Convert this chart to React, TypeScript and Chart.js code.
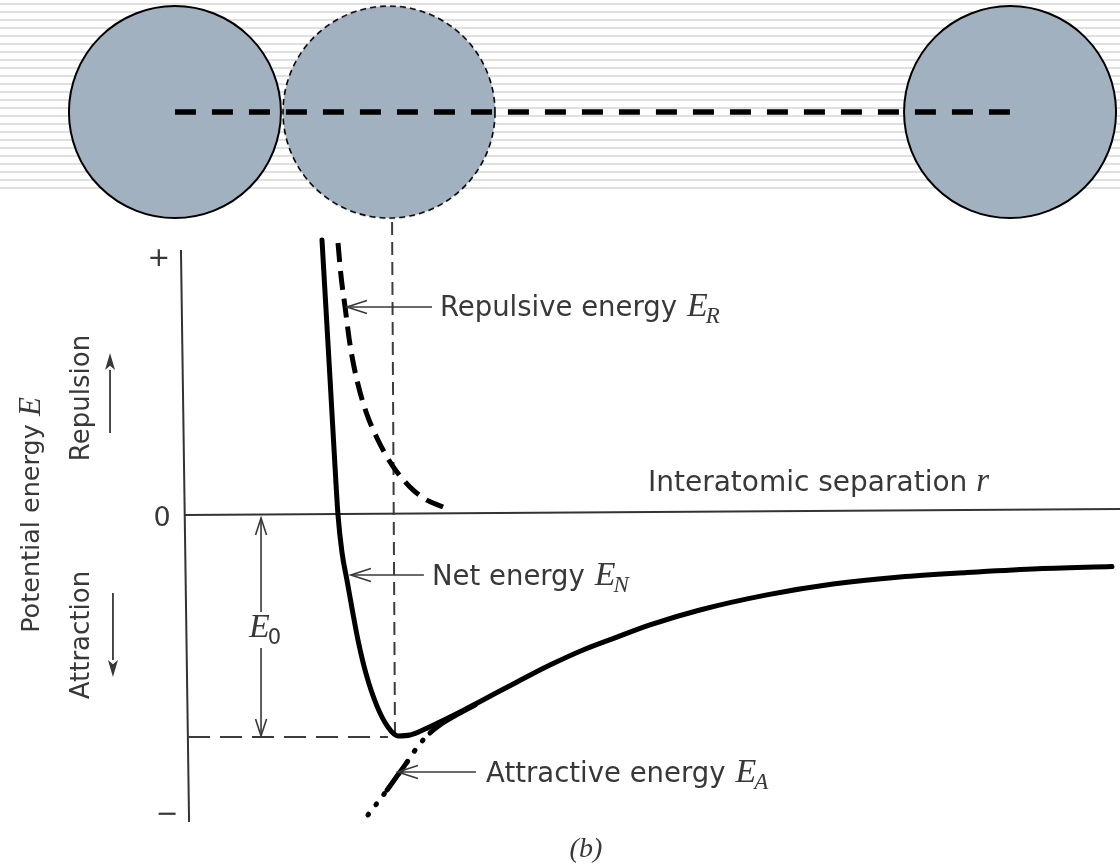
import React, { useEffect, useRef } from "react";
import { Chart, registerables } from "chart.js";

Chart.register(...registerables);

// Interatomic separation r (equilibrium r0 = 1) and potential energy E (bond energy E0 = -1)
const netSeparation = [0.649, 0.688, 0.712, 0.726, 0.745, 0.769, 0.793, 0.822, 0.861, 0.913, 0.966, 1.014, 1.072, 1.144, 1.216, 1.313, 1.423, 1.587, 1.745, 1.904, 2.067, 2.226, 2.466, 2.788, 3.106, 3.428, 3.75, 4.067, 4.447];
const netEnergy = [1.239, 0.608, 0.212, 0.0, -0.167, -0.293, -0.419, -0.563, -0.716, -0.86, -0.955, -0.995, -0.991, -0.964, -0.932, -0.887, -0.833, -0.752, -0.676, -0.608, -0.55, -0.495, -0.428, -0.36, -0.311, -0.279, -0.259, -0.243, -0.232];

const repulsiveSeparation = [0.726, 0.74, 0.76, 0.784, 0.817, 0.861, 0.918, 0.986, 1.072, 1.144, 1.231];
const repulsiveEnergy = [1.225, 1.081, 0.937, 0.766, 0.608, 0.464, 0.338, 0.225, 0.126, 0.072, 0.036];

const attractiveSeparation = [0.87, 0.918, 0.962, 1.01, 1.058, 1.111, 1.168, 1.216, 1.288, 1.385];
const attractiveEnergy = [-1.351, -1.293, -1.239, -1.176, -1.113, -1.041, -0.982, -0.946, -0.905, -0.856];

const atomSeparation = [-0.058, 0.971, 3.957];
const atomLevel = [1.815, 1.815, 1.815];

const energyTickLabels = ["+", "0", "\u2212"];
const energyTickValues = [1.158, -0.014, -1.347];

const equilibriumSeparation = [0.986, 1.0];
const equilibriumEnergy = [1.32, -1.0];
const bondLineSeparation = [0.005, 0.966];
const bondLineEnergy = [-1.0, -1.0];

const energyAxisSeparation = [-0.029, 0.01];
const energyAxisEnergy = [1.194, -1.383];
const separationAxisSeparation = [-0.01, 4.486];
const separationAxisEnergy = [0.0, 0.027];

const X_MIN = -0.899;
const X_MAX = 4.4856;
const Y_MIN = -1.5721;
const Y_MAX = 2.3198;

const pts = (xs: number[], ys: number[]) => xs.map((x, i) => ({ x, y: ys[i] }));

const INK = "#383838";
const SANS = '"DejaVu Sans", sans-serif';
const SERIF = '"Liberation Serif", serif';

function arrowOpen(ctx: CanvasRenderingContext2D, x1: number, y1: number, x2: number, y2: number, len = 20, half = 6.5) {
  const a = Math.atan2(y2 - y1, x2 - x1);
  ctx.beginPath();
  ctx.moveTo(x1, y1);
  ctx.lineTo(x2, y2);
  ctx.stroke();
  const bx = x2 - len * Math.cos(a);
  const by = y2 - len * Math.sin(a);
  const nx = -Math.sin(a) * half;
  const ny = Math.cos(a) * half;
  ctx.beginPath();
  ctx.moveTo(bx + nx, by + ny);
  ctx.lineTo(x2, y2);
  ctx.lineTo(bx - nx, by - ny);
  ctx.stroke();
}

function arrowFilled(ctx: CanvasRenderingContext2D, x1: number, y1: number, x2: number, y2: number, len = 17, half = 5) {
  const a = Math.atan2(y2 - y1, x2 - x1);
  const bx = x2 - len * Math.cos(a);
  const by = y2 - len * Math.sin(a);
  ctx.beginPath();
  ctx.moveTo(x1, y1);
  ctx.lineTo(bx, by);
  ctx.stroke();
  const nx = -Math.sin(a) * half;
  const ny = Math.cos(a) * half;
  ctx.beginPath();
  ctx.moveTo(x2, y2);
  ctx.lineTo(bx + nx, by + ny);
  ctx.lineTo(bx + (x2 - bx) * 0.25, by + (y2 - by) * 0.25);
  ctx.lineTo(bx - nx, by - ny);
  ctx.closePath();
  ctx.fill();
}

function mathSymbol(ctx: CanvasRenderingContext2D, x: number, base: number, sub: string, subItalic = true) {
  ctx.font = `italic 34px ${SERIF}`;
  ctx.fillText("E", x, base);
  const w = ctx.measureText("E").width;
  ctx.font = subItalic ? `italic 23px ${SERIF}` : `21px ${SANS}`;
  ctx.fillText(sub, x + w - 2, base + 7);
}

function labelWithSymbol(ctx: CanvasRenderingContext2D, x: number, base: number, text: string, sub: string) {
  ctx.font = `27.5px ${SANS}`;
  ctx.fillText(text, x, base);
  const w = ctx.measureText(text).width;
  mathSymbol(ctx, x + w + 10, base, sub);
}

const decorPlugin = {
  id: "decor",
  beforeDraw(chart: any) {
    const { ctx, width, height } = chart;
    ctx.save();
    ctx.fillStyle = "#ffffff";
    ctx.fillRect(0, 0, width, height);
    ctx.fillStyle = "#e0e0e0";
    for (let y = 3; y <= 188; y += 8) ctx.fillRect(0, y, width, 2);
    ctx.restore();
  },
  afterDatasetsDraw(chart: any) {
    const { ctx } = chart;
    const sx = chart.scales.x;
    const sy = chart.scales.y;
    const X = (v: number) => sx.getPixelForValue(v);
    const Y = (v: number) => sy.getPixelForValue(v);
    ctx.save();
    ctx.fillStyle = INK;
    ctx.strokeStyle = INK;
    ctx.lineWidth = 1.6;
    ctx.textBaseline = "alphabetic";
    ctx.textAlign = "left";

    // pointer labels
    const pointers = [
      { e: 0.937, tip: 0.769, tail: 1.178, at: 1.216, base: 0.896, text: "Repulsive energy", sub: "R" },
      { e: -0.27, tip: 0.788, tail: 1.139, at: 1.178, base: -0.315, text: "Net energy", sub: "N" },
      { e: -1.158, tip: 1.014, tail: 1.389, at: 1.438, base: -1.203, text: "Attractive energy", sub: "A" },
    ];
    for (const p of pointers) {
      arrowOpen(ctx, X(p.tail), Y(p.e), X(p.tip), Y(p.e));
      labelWithSymbol(ctx, X(p.at), Y(p.base), p.text, p.sub);
    }

    // axis title along r
    ctx.font = `28px ${SANS}`;
    const t = "Interatomic separation ";
    ctx.fillText(t, X(2.216), Y(0.108));
    const tw = ctx.measureText(t).width;
    ctx.font = `italic 33px ${SERIF}`;
    ctx.fillText("r", X(2.216) + tw, Y(0.108));

    // E0 marker
    const rx = X(0.356);
    arrowOpen(ctx, rx, Y(-0.437), rx, Y(-0.0135), 17, 5.5);
    arrowOpen(ctx, rx, Y(-0.599), rx, Y(-0.995), 17, 5.5);
    ctx.beginPath();
    ctx.moveTo(X(0.317), Y(-1.0));
    ctx.lineTo(X(0.399), Y(-1.0));
    ctx.stroke();
    mathSymbol(ctx, X(0.298), Y(-0.55), "0", false);

    // energy ticks
    ctx.font = `27px ${SANS}`;
    ctx.textAlign = "center";
    ctx.textBaseline = "middle";
    const tickR = [-0.135, -0.12, -0.096];
    energyTickLabels.forEach((lab, i) => ctx.fillText(lab, X(tickR[i]), Y(energyTickValues[i]) + 1));

    // rotated left labels
    const rotated = (cx: number, cy: number, parts: { t: string; f: string }[]) => {
      ctx.save();
      ctx.translate(cx, cy);
      ctx.rotate(-Math.PI / 2);
      ctx.textAlign = "left";
      ctx.textBaseline = "middle";
      let total = 0;
      const ws = parts.map((p) => {
        ctx.font = p.f;
        const w = ctx.measureText(p.t).width;
        total += w;
        return w;
      });
      let x = -total / 2;
      parts.forEach((p, i) => {
        ctx.font = p.f;
        ctx.fillText(p.t, x, 0);
        x += ws[i];
      });
      ctx.restore();
    };
    rotated(X(-0.745), Y(0.0), [
      { t: "Potential energy ", f: `25.5px ${SANS}` },
      { t: "E", f: `italic 31px ${SERIF}` },
    ]);
    rotated(X(-0.505), Y(0.527), [{ t: "Repulsion", f: `26px ${SANS}` }]);
    rotated(X(-0.505), Y(-0.541), [{ t: "Attraction", f: `26px ${SANS}` }]);
    ctx.lineWidth = 1.8;
    arrowFilled(ctx, X(-0.37), Y(0.369), X(-0.37), Y(0.73));
    arrowFilled(ctx, X(-0.356), Y(-0.351), X(-0.356), Y(-0.73));

    // panel tag
    ctx.textAlign = "center";
    ctx.textBaseline = "middle";
    ctx.font = `italic 28px ${SERIF}`;
    ctx.fillText("(b)", X(1.918), Y(-1.509));
    ctx.restore();
  },
};

export default function App() {
  const ref = useRef<HTMLCanvasElement | null>(null);

  useEffect(() => {
    const canvas = ref.current;
    if (!canvas) return;

    const R = 106;
    const size = 2 * R + 6;
    const dashedAtom = document.createElement("canvas");
    dashedAtom.width = size;
    dashedAtom.height = size;
    const c = dashedAtom.getContext("2d")!;
    c.beginPath();
    c.arc(size / 2, size / 2, R, 0, Math.PI * 2);
    c.fillStyle = "#a2b1c0";
    c.fill();
    c.setLineDash([6, 4]);
    c.lineWidth = 1.6;
    c.strokeStyle = "#000";
    c.stroke();

    const line = (data: any, extra: any) => ({
      data,
      showLine: true,
      pointRadius: 0,
      pointHoverRadius: 0,
      fill: false,
      borderColor: "#000",
      ...extra,
    });

    const chart = new Chart(canvas, {
      type: "scatter",
      data: {
        datasets: [
          {
            label: "Atoms",
            data: [0, 2].map((i) => ({ x: atomSeparation[i], y: atomLevel[i] })),
            pointRadius: R,
            pointHoverRadius: R,
            pointStyle: "circle",
            backgroundColor: "#a2b1c0",
            borderColor: "#000",
            borderWidth: 2,
            showLine: false,
            clip: false,
            order: 20,
          } as any,
          {
            label: "Displaced atom",
            data: [{ x: atomSeparation[1], y: atomLevel[1] }],
            pointStyle: dashedAtom as any,
            pointRadius: R,
            showLine: false,
            clip: false,
            order: 19,
          } as any,
          line(pts([atomSeparation[0], atomSeparation[2]], [atomLevel[0], atomLevel[2]]), {
            label: "Bond axis",
            borderWidth: 5.5,
            borderDash: [21, 16],
            borderCapStyle: "butt",
            order: 18,
          }),
          line(pts(energyAxisSeparation, energyAxisEnergy), { label: "E axis", borderColor: "#333", borderWidth: 2, order: 17 }),
          line(pts(separationAxisSeparation, separationAxisEnergy), { label: "r axis", borderColor: "#333", borderWidth: 2, order: 16 }),
          line(pts(equilibriumSeparation, equilibriumEnergy), {
            label: "r0",
            borderColor: "#3c3c3c",
            borderWidth: 2,
            borderDash: [13, 7],
            order: 15,
          }),
          line(pts(bondLineSeparation, bondLineEnergy), {
            label: "E0",
            borderColor: "#3c3c3c",
            borderWidth: 2,
            borderDash: [22, 10],
            order: 14,
          }),
          line(pts(repulsiveSeparation, repulsiveEnergy), {
            label: "Repulsive energy",
            borderWidth: 5,
            borderDash: [19, 9],
            cubicInterpolationMode: "monotone",
            order: 13,
          }),
          line(pts(attractiveSeparation, attractiveEnergy), {
            label: "Attractive energy",
            borderWidth: 5,
            borderCapStyle: "round",
            cubicInterpolationMode: "monotone",
            segment: {
              borderDash: (s: any) => {
                const i = s.p0DataIndex;
                return i <= 1 || i === 4 || i === 5 ? [1, 12] : [];
              },
            },
            order: 12,
          }),
          line(pts(netSeparation, netEnergy), {
            label: "Net energy",
            borderWidth: 5,
            borderCapStyle: "round",
            borderJoinStyle: "round",
            cubicInterpolationMode: "monotone",
            order: 11,
          }),
        ],
      },
      options: {
        animation: false,
        responsive: false,
        maintainAspectRatio: false,
        events: [],
        layout: { padding: 0, autoPadding: false },
        plugins: {
          legend: { display: false },
          tooltip: { enabled: false },
          title: { display: false },
        },
        scales: {
          x: { type: "linear", display: false, min: X_MIN, max: X_MAX },
          y: { type: "linear", display: false, min: Y_MIN, max: Y_MAX },
        },
      } as any,
      plugins: [decorPlugin as any],
    });

    return () => chart.destroy();
  }, []);

  return (
    <div style={{ position: "absolute", left: 0, top: 0, width: 1120, height: 864, background: "#fff" }}>
      <canvas ref={ref} width={1120} height={864} style={{ display: "block", width: 1120, height: 864 }} />
    </div>
  );
}
